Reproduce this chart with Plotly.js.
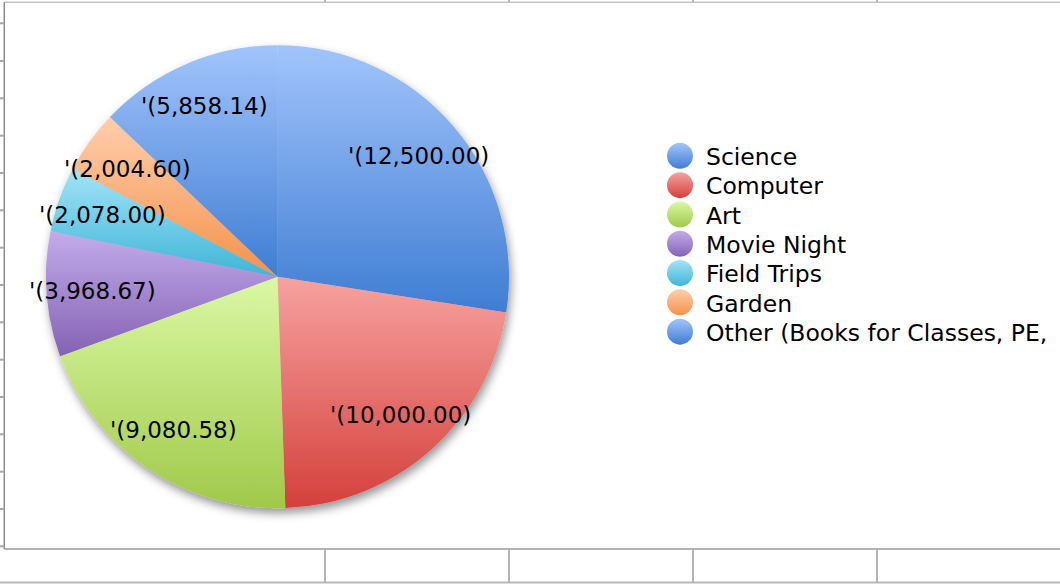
<!DOCTYPE html>
<html>
<head>
<meta charset="utf-8">
<script src="https://cdn.plot.ly/plotly-3.0.1.min.js"></script>
<style>
html, body { margin: 0; padding: 0; background: #ffffff; }
#chart { width: 1060px; height: 584px; }
</style>
</head>
<body>
<div id="chart"></div>
<script>
// ---- data ----
var categories = ["Science", "Computer", "Art", "Movie Night", "Field Trips", "Garden", "Other (Books for Classes, PE,"];
var amounts = [12500.00, 10000.00, 9080.58, 3968.67, 2078.00, 2004.60, 5858.14];

// ---- styles ----
var baseColors = ["#6d9eea", "#e76e6b", "#bfe075", "#a588d0", "#6fcce6", "#fab27c", "#6d9eea"];
var gradTop    = ["#a2c4fb", "#f7a2a0", "#dbf8a4", "#c3aceb", "#a2e4f7", "#ffceac", "#a2c4fb"];
var gradBottom = ["#3f7dd3", "#d4403b", "#a0c94a", "#8462b4", "#3fb5d6", "#f4924a", "#3f7dd3"];

var W = 1060, H = 584;
var pieDomainX = [0.0434, 0.4802];
var pieDomainY = [0.1298, 0.9226];
var labelRadius = 0.8;
var FONT = "DejaVu Sans";

function fmt(v) {
  return "'(" + v.toLocaleString("en-US", {minimumFractionDigits: 2, maximumFractionDigits: 2}) + ")";
}
var labelText = amounts.map(fmt);

// label annotations placed at the middle angle of each slice
var total = amounts.reduce(function (a, b) { return a + b; }, 0);
var Rpx = Math.min((pieDomainX[1] - pieDomainX[0]) * W, (pieDomainY[1] - pieDomainY[0]) * H) / 2;
var cxPx = (pieDomainX[0] + pieDomainX[1]) / 2 * W;
var cyPx = (pieDomainY[0] + pieDomainY[1]) / 2 * H;
var annotations = [];
var cum = 0;
amounts.forEach(function (v, i) {
  var mid = (cum + v / 2) / total * 2 * Math.PI;
  cum += v;
  annotations.push({
    xref: "paper", yref: "paper",
    x: (cxPx + labelRadius * Rpx * Math.sin(mid)) / W,
    y: (cyPx + labelRadius * Rpx * Math.cos(mid)) / H,
    xanchor: "center", yanchor: "middle",
    text: labelText[i], showarrow: false,
    font: {family: FONT, size: 23, color: "#000000"}
  });
});

// spreadsheet cell lines around the chart frame (pixel positions)
var colLines = [325, 509, 693, 877];
var rowTicks = [23.3, 61, 98.3, 135.7, 173, 210.3, 247.7, 285, 322.3, 359.7, 397, 434.3, 471.7, 509, 546.3];
function px(x) { return x / W; }
function py(y) { return 1 - y / H; }
var shapes = [];
function line(x0, y0, x1, y1, color, width) {
  shapes.push({type: "line", xref: "paper", yref: "paper", x0: px(x0), y0: py(y0), x1: px(x1), y1: py(y1),
    line: {color: color, width: width}});
}
line(4.3, 2.3, 1060, 2.3, "#c4c4c4", 1.5);
line(4.3, 2.3, 4.3, 549, "#8a8a8a", 1.5);
line(4.3, 549, 1060, 549, "#9a9a9a", 1.5);
line(0, 582.5, 1060, 582.5, "#b8b8b8", 2);
colLines.forEach(function (x) {
  line(x, 549, x, 582.5, "#b4b4b4", 2);
  line(x, 0, x, 2, "#b4b4b4", 2);
});
rowTicks.forEach(function (y) { line(0, y, 4.3, y, "#a8a8a8", 2); });

var data = [{
  type: "pie",
  labels: categories,
  values: amounts,
  sort: false,
  direction: "clockwise",
  rotation: 0,
  textinfo: "none",
  hoverinfo: "none",
  marker: {colors: baseColors, line: {width: 0}},
  domain: {x: pieDomainX, y: pieDomainY},
  showlegend: true
}];

var layout = {
  width: W, height: H,
  margin: {l: 0, r: 0, t: 0, b: 0},
  paper_bgcolor: "#ffffff",
  showlegend: true,
  legend: {
    x: 0.6283, y: 0.7704, xanchor: "left", yanchor: "top",
    bgcolor: "rgba(0,0,0,0)",
    font: {family: FONT, size: 23.5, color: "#000000"},
    traceorder: "normal"
  },
  annotations: annotations,
  shapes: shapes
};

function decorate(gd) {
  try {
    var NS = "http://www.w3.org/2000/svg";
    var svg = gd.querySelector("svg.main-svg");
    var defs = document.createElementNS(NS, "defs");
    svg.insertBefore(defs, svg.firstChild);
    amounts.forEach(function (_, i) {
      var lg = document.createElementNS(NS, "linearGradient");
      lg.setAttribute("id", "sg" + i);
      lg.setAttribute("x1", "0"); lg.setAttribute("y1", "0");
      lg.setAttribute("x2", "0"); lg.setAttribute("y2", "1");
      [[0, gradTop[i]], [1, gradBottom[i]]].forEach(function (s) {
        var st = document.createElementNS(NS, "stop");
        st.setAttribute("offset", s[0]);
        st.setAttribute("stop-color", s[1]);
        lg.appendChild(st);
      });
      defs.appendChild(lg);
    });
    var f = document.createElementNS(NS, "filter");
    f.setAttribute("id", "pieShadow");
    f.setAttribute("x", "-20%"); f.setAttribute("y", "-20%");
    f.setAttribute("width", "140%"); f.setAttribute("height", "140%");
    var ds = document.createElementNS(NS, "feDropShadow");
    ds.setAttribute("dx", "2"); ds.setAttribute("dy", "5");
    ds.setAttribute("stdDeviation", "5");
    ds.setAttribute("flood-color", "#000000");
    ds.setAttribute("flood-opacity", "0.42");
    f.appendChild(ds);
    defs.appendChild(f);

    var slices = gd.querySelectorAll(".pielayer .slice");
    slices.forEach(function (s, k) {
      var d = s.__data__;
      var i = (d && d.i != null) ? d.i : k;
      var p = s.querySelector("path.surface");
      if (p) { p.style.fill = "url(#sg" + i + ")"; p.style.strokeWidth = "0"; }
    });
    var tr = gd.querySelector(".pielayer .trace");
    if (tr) tr.setAttribute("filter", "url(#pieShadow)");

    // legend: round gradient markers, tighter rows
    var items = gd.querySelectorAll(".legend .traces");
    var step = 29.3, y0 = null;
    items.forEach(function (it, k) {
      var t = it.getAttribute("transform") || "";
      var m = /translate\(\s*([-\d.e]+)[ ,]+([-\d.e]+)\s*\)/.exec(t);
      if (m) {
        var tx = parseFloat(m[1]), ty = parseFloat(m[2]);
        if (y0 === null) y0 = ty;
        it.setAttribute("transform", "translate(" + tx + "," + (y0 + k * step) + ")");
      }
      var p = it.querySelector(".legendpoints path");
      if (p) {
        var r = 13, cx = -6;
        p.setAttribute("d", "M" + (cx - r) + ",0A" + r + "," + r + " 0 1,0 " + (cx + r) + ",0A" + r + "," + r + " 0 1,0 " + (cx - r) + ",0Z");
        p.style.fill = "url(#sg" + k + ")";
        p.style.strokeWidth = "0";
      }
    });
  } catch (e) { console.log(e); }
}

Plotly.newPlot("chart", data, layout, {staticPlot: true, displayModeBar: false}).then(decorate);
</script>
</body>
</html>
